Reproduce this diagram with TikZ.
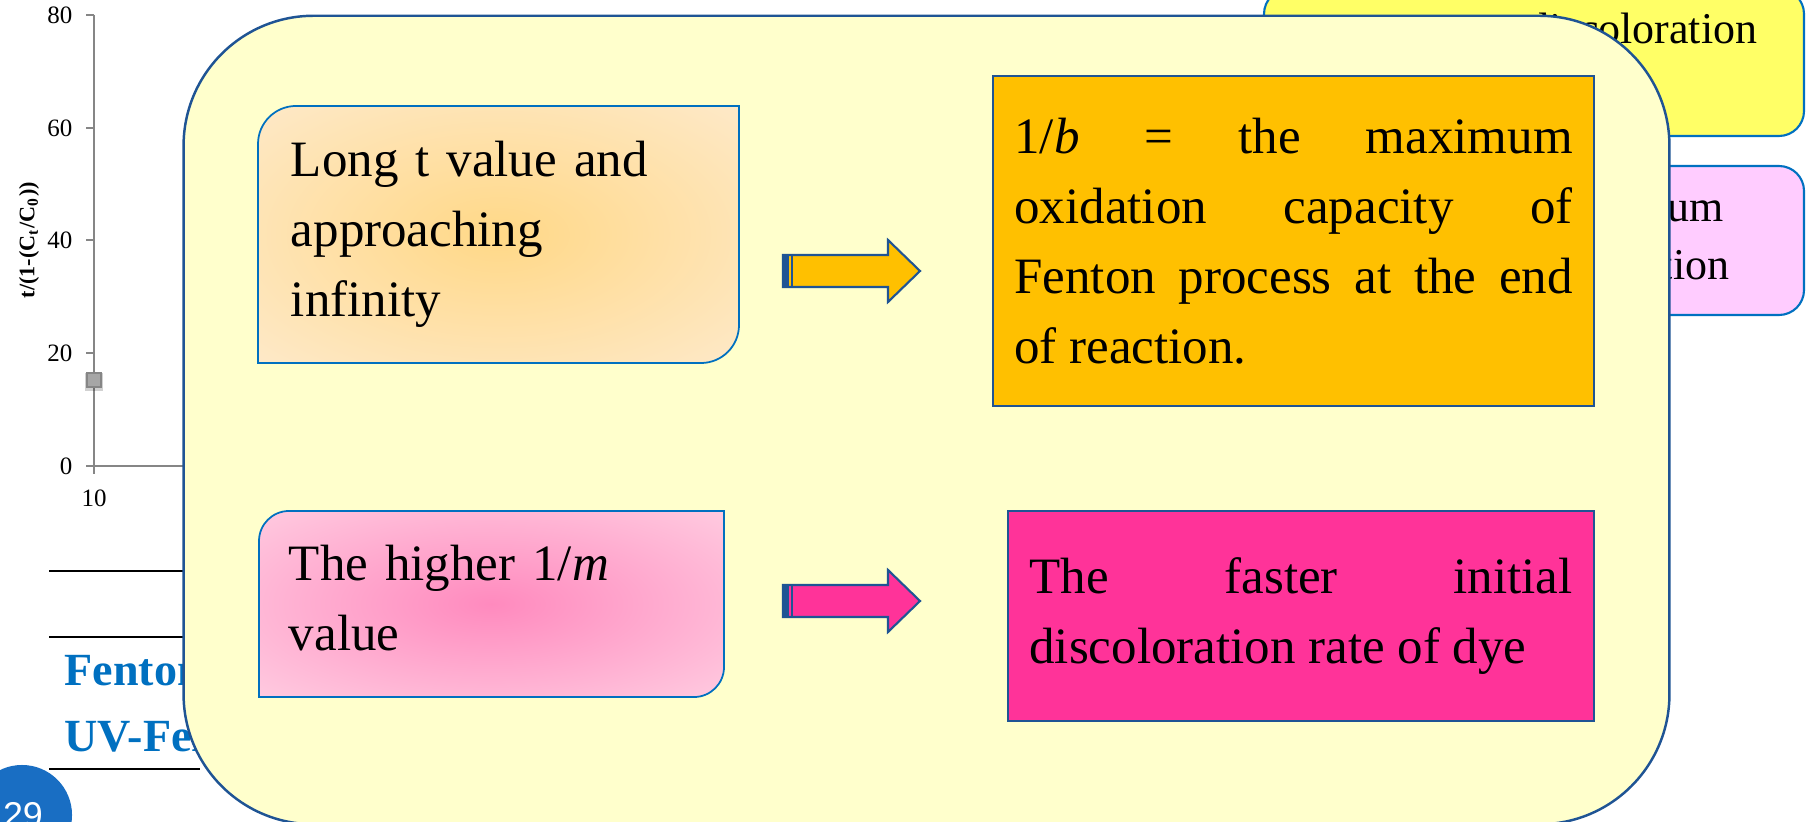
\documentclass[tikz,border=0pt]{standalone}
\usepackage{fontspec}
\setmainfont{Liberation Serif}
\setsansfont{Liberation Sans}
\usetikzlibrary{positioning,calc}
\definecolor{panelfill}{RGB}{255,255,204}
\definecolor{paneledge}{RGB}{31,84,148}
\definecolor{boxedge}{RGB}{0,112,192}
\definecolor{goldfill}{RGB}{255,192,0}
\definecolor{rosefill}{RGB}{255,51,153}
\definecolor{goldmid}{RGB}{255,216,135}
\definecolor{goldedge}{RGB}{254,236,212}
\definecolor{rosemid}{RGB}{255,138,190}
\definecolor{roseedge}{RGB}{255,214,230}
\definecolor{lemonfill}{RGB}{255,255,102}
\definecolor{lilacfill}{RGB}{255,204,255}
\definecolor{slideblue}{RGB}{0,112,192}
\definecolor{pageblue}{RGB}{25,110,195}
\definecolor{axisgray}{RGB}{134,134,134}
\definecolor{markgray}{RGB}{166,166,166}
\pgfdeclareradialshading{goldglow}{\pgfpoint{0bp}{0bp}}{color(0bp)=(goldmid); color(42bp)=(goldedge); color(50bp)=(goldedge)}
\pgfdeclareradialshading{roseglow}{\pgfpoint{0bp}{0bp}}{color(0bp)=(rosemid); color(42bp)=(roseedge); color(50bp)=(roseedge)}
\newcommand\boxfont{\fontsize{14.5pt}{19.9pt}\selectfont\hyphenpenalty=10000}
\newcommand\backfont{\fontsize{12.5pt}{16.5pt}\selectfont}
% block arrow with a stripe at its tail: #1 = y of the shaft, #2 = fill
\newcommand\stripearrow[2]{%
  \draw[paneledge, line width=0.6pt, fill=#2] (783,#1-16) -- (888,#1-16) -- (888,#1-31) -- (920,#1) -- (888,#1+31) -- (888,#1+16) -- (783,#1+16) -- cycle;
  \fill[paneledge] (783,#1-16) rectangle (789,#1+16);
  \draw[paneledge, line width=0.4pt] (792,#1-16) -- (792,#1+16);}

\begin{document}
\begin{tikzpicture}[x=0.01cm, y=-0.01cm,
  panel/.style={draw=paneledge, line width=0.7pt, fill=panelfill, rounded corners=1.3cm, minimum width=14.85cm, minimum height=8.08cm},
  softbox/.style={inner xsep=0.33cm, inner ysep=0pt, align=left, font=\boxfont},
  flatbox/.style={draw=paneledge, line width=0.5pt, inner xsep=0.215cm, inner ysep=0pt, align=justify, font=\boxfont},
  backbox/.style={draw=boxedge, line width=0.6pt, rounded corners=0.25cm},
  backtext/.style={inner sep=0pt, font=\backfont},
  axisline/.style={axisgray, line width=0.55pt},
  axisnum/.style={inner sep=0pt, font=\fontsize{7.1pt}{8.5pt}\selectfont},
  rule/.style={black, line width=0.7pt},
  slidetext/.style={inner sep=0pt, text=slideblue, font=\fontsize{13.1pt}{15pt}\selectfont\bfseries}
]
  \useasboundingbox (0,0) rectangle (1807,822);
  \clip (0,0) rectangle (1807,822);

  % chart and table left of the panel
  \draw[axisline] (94,15) -- (94,466) -- (200,466);
  \draw[axisline] (94,466) -- (94,474);
  \foreach \v/\yy in {0/466,20/353,40/240,60/128,80/15}{
    \draw[axisline] (86,\yy) -- (94,\yy);
    \node[axisnum, anchor=east] (tick\v) at (73,\yy) {\v};
  }
  \node[axisnum] (xten) at (94,498) {10};
  \node[inner sep=0pt, rotate=90, font=\fontsize{6.3pt}{7.5pt}\selectfont\bfseries] (ylabel) at (29,240) {t/(1-(C\textsubscript{t}/C\textsubscript{0}))};
  \fill[black, opacity=0.18] (85,373) rectangle (103,391);
  \node[draw=axisgray, fill=markgray, minimum size=0.14cm, inner sep=0pt] (point) at (94,380) {};

  \draw[rule] (49,571) -- (200,571);
  \draw[rule] (49,637) -- (200,637);
  \draw[rule] (49,769) -- (200,769);
  \node[slidetext, anchor=base west] (fenton) at (64,685) {Fenton};
  \node[slidetext, anchor=base west] (uvfenton) at (64,751) {UV-Fenton};

  \node[circle, fill=pageblue, minimum size=1cm, inner sep=0pt] (pagedot) at (22,815) {};
  \node[inner sep=0pt, text=white, font=\sffamily\fontsize{10.2pt}{12pt}\selectfont] (pageno) at (23,815) {29};

  % boxes behind the panel, top right
  \draw[backbox, fill=lemonfill] (1264,-11) rectangle (1804,136);
  \node[backtext, anchor=base east] (lemontext) at (1758,44) {discoloration};
  \draw[backbox, fill=lilacfill] (1500,166) rectangle (1804,315);
  \node[backtext, anchor=base east] (lilactop) at (1724,222) {maximum};
  \node[backtext, anchor=base east] (lilacbottom) at (1730,280) {oxidation};

  % the panel
  \node[panel] (panel) at (926.5,420) {};

  % left cards
  \coordinate (longA) at (258,106);
  \coordinate (longB) at (739,363);
  \path[shade, shading=goldglow, draw=boxedge, line width=0.5pt] ($(longA)+(0,38)$) arc[start angle=180, end angle=90, radius=0.38cm] -- (longB |- longA) -- ($(longB)+(0,-38)$) arc[start angle=0, end angle=-90, radius=0.38cm] -- (longA |- longB) -- cycle;
  \node[softbox, text width=4.15cm, minimum height=2.57cm] (longt) at ($(longA)!0.5!(longB)$) {Long t value and\\approaching\\infinity};

  \coordinate (highA) at (259,511);
  \coordinate (highB) at (724,697);
  \path[shade, shading=roseglow, draw=boxedge, line width=0.5pt] ($(highA)+(0,30)$) arc[start angle=180, end angle=90, radius=0.3cm] -- (highB |- highA) -- ($(highB)+(0,-30)$) arc[start angle=0, end angle=-90, radius=0.3cm] -- (highA |- highB) -- cycle;
  \node[softbox, inner xsep=0.3cm, text width=4.05cm, minimum height=1.86cm, yshift=0.06cm] (higher) at ($(highA)!0.5!(highB)$) {The higher 1/\textit{m}\\value};

  % right cards
  \node[flatbox, fill=goldfill, text width=5.58cm, minimum height=3.3cm] (capacity) at (1293.5,241) {1/\textit{b} = the maximum\linebreak oxidation capacity of\linebreak Fenton process at the end\linebreak of reaction.};
  \node[flatbox, fill=rosefill, text width=5.43cm, minimum height=2.1cm] (faster) at (1301,616) {The faster initial\linebreak discoloration rate of dye};

  \stripearrow{271}{goldfill}
  \stripearrow{601}{rosefill}
\end{tikzpicture}
\end{document}
